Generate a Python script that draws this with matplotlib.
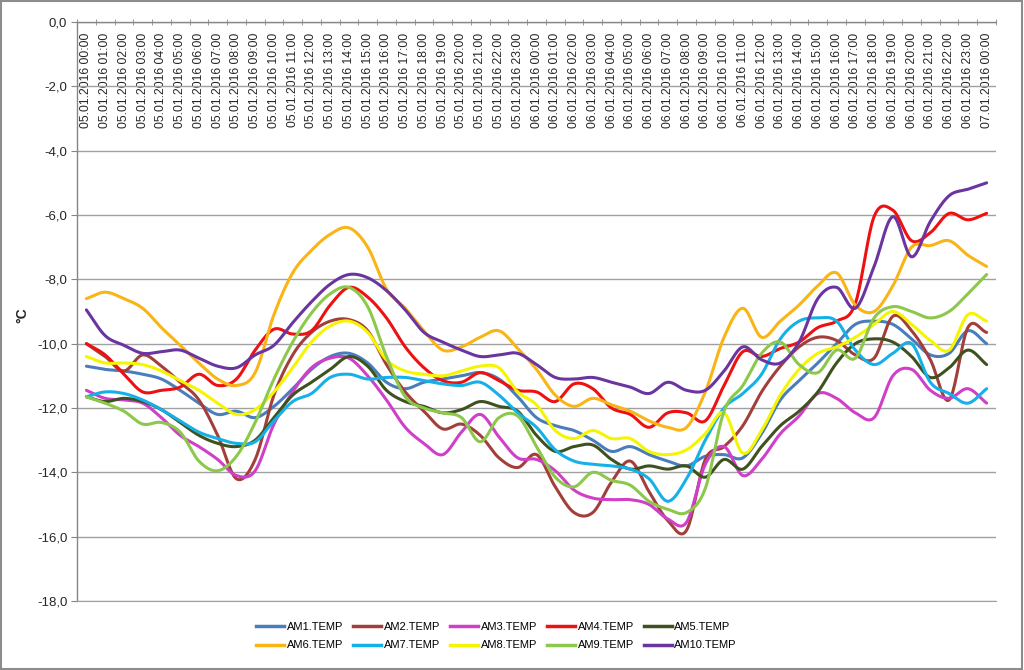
import numpy as np
import matplotlib.pyplot as plt
from matplotlib.patches import Rectangle
from matplotlib.lines import Line2D

plt.rcParams['font.family'] = ['Liberation Sans', 'DejaVu Sans']
plt.rcParams['axes.unicode_minus'] = False

# 时间标签 (每小时一个)
days = ['05.01.2016'] * 24 + ['06.01.2016'] * 24 + ['07.01.2016']
hours = list(range(24)) * 2 + [0]
time_labels = [f'{d} {h:02d}:00' for d, h in zip(days, hours)]

# 各测点温度 (°C)
am1 = [-10.7, -10.8, -10.85, -10.95, -11.1, -11.45, -11.85, -12.2, -12.1, -12.3, -11.95, -11.4, -10.8,
       -10.4, -10.3, -10.6, -11.2, -11.4, -11.2, -11.1, -11.0, -10.9, -11.1, -11.65, -12.3, -12.55,
       -12.7, -13.0, -13.35, -13.2, -13.45, -13.65, -13.8, -13.5, -13.45, -13.55, -12.8, -11.75,
       -11.15, -10.6, -10.0, -9.4, -9.3, -9.4, -9.85, -10.35, -10.3, -9.6, -10.0]
am2 = [-10.0, -10.4, -10.85, -10.35, -10.7, -11.2, -11.75, -12.85, -14.2, -13.6, -11.6, -10.35, -9.65,
       -9.3, -9.25, -9.6, -10.65, -11.5, -12.1, -12.65, -12.5, -12.85, -13.55, -13.85, -13.45, -14.45,
       -15.25, -15.25, -14.3, -13.65, -14.6, -15.5, -15.8, -13.6, -13.2, -12.55, -11.5, -10.7,
       -10.1, -9.8, -9.9, -10.35, -10.45, -9.15, -9.6, -10.5, -11.75, -9.5, -9.65]
am3 = [-11.45, -11.7, -11.75, -11.85, -12.3, -12.85, -13.2, -13.6, -14.1, -13.95, -12.5, -11.5, -10.75,
       -10.45, -10.45, -11.0, -11.75, -12.6, -13.1, -13.45, -12.75, -12.2, -12.9, -13.55, -13.6, -13.95,
       -14.55, -14.8, -14.85, -14.85, -15.0, -15.45, -15.55, -13.75, -13.2, -14.1, -13.6, -12.8,
       -12.25, -11.55, -11.7, -12.15, -12.3, -11.0, -10.8, -11.45, -11.7, -11.4, -11.85]
am4 = [-10.0, -10.35, -10.95, -11.5, -11.45, -11.35, -10.95, -11.3, -11.1, -10.2, -9.55, -9.7, -9.6,
       -8.8, -8.25, -8.55, -9.2, -10.1, -10.75, -11.15, -11.2, -10.9, -11.15, -11.45, -11.5, -11.8,
       -11.25, -11.4, -12.0, -12.2, -12.6, -12.15, -12.15, -12.4, -11.3, -10.25, -10.4, -10.15,
       -9.95, -9.5, -9.3, -8.75, -6.05, -5.85, -6.8, -6.55, -5.95, -6.15, -5.95]
am5 = [-11.65, -11.8, -11.7, -11.8, -12.05, -12.45, -12.85, -13.1, -13.2, -13.0, -12.3, -11.6, -11.2,
       -10.8, -10.4, -10.7, -11.45, -11.8, -11.95, -12.15, -12.05, -11.8, -11.95, -12.1, -12.85, -13.35,
       -13.2, -13.15, -13.6, -13.9, -13.8, -13.9, -13.8, -14.15, -13.6, -13.9, -13.2, -12.55,
       -12.1, -11.5, -10.6, -10.0, -9.85, -9.95, -10.4, -11.05, -10.75, -10.2, -10.65]
am6 = [-8.6, -8.4, -8.6, -8.9, -9.5, -10.05, -10.6, -11.1, -11.3, -10.9, -9.1, -7.8, -7.1,
       -6.6, -6.4, -7.0, -8.3, -8.9, -9.6, -10.2, -10.1, -9.8, -9.6, -10.15, -10.8, -11.6,
       -11.95, -11.7, -11.9, -12.1, -12.4, -12.6, -12.6, -11.5, -9.8, -8.9, -9.8, -9.3,
       -8.8, -8.2, -7.8, -8.8, -9.0, -8.2, -7.0, -6.95, -6.8, -7.25, -7.6]
am7 = [-11.65, -11.5, -11.55, -11.75, -12.05, -12.4, -12.75, -12.95, -13.1, -13.05, -12.4, -11.8, -11.55,
       -11.05, -10.95, -11.1, -11.05, -11.05, -11.15, -11.25, -11.3, -11.2, -11.6, -12.15, -12.6, -13.3,
       -13.65, -13.75, -13.8, -13.9, -14.2, -14.9, -14.2, -13.0, -12.0, -11.55, -10.95, -9.85,
       -9.3, -9.2, -9.3, -10.2, -10.65, -10.3, -10.0, -11.2, -11.55, -11.85, -11.4]
am8 = [-10.4, -10.6, -10.6, -10.65, -10.85, -11.15, -11.45, -11.85, -12.2, -12.05, -11.5, -10.75, -9.95,
       -9.45, -9.3, -9.65, -10.5, -10.85, -10.95, -11.0, -10.85, -10.7, -10.75, -11.5, -11.9, -12.7,
       -12.95, -12.7, -12.95, -12.95, -13.35, -13.45, -13.3, -12.8, -12.15, -13.4, -12.7, -11.6,
       -10.8, -10.3, -10.1, -9.8, -9.4, -9.0, -9.4, -9.9, -10.2, -9.1, -9.3]
am9 = [-11.65, -11.85, -12.1, -12.5, -12.45, -12.75, -13.65, -13.95, -13.5, -12.45, -11.1, -9.95, -9.05,
       -8.45, -8.25, -8.85, -10.4, -11.65, -12.0, -12.15, -12.3, -13.05, -12.3, -12.25, -13.2, -14.15,
       -14.45, -14.0, -14.25, -14.4, -14.9, -15.15, -15.25, -14.5, -12.1, -11.3, -10.3, -9.95,
       -10.65, -10.9, -10.2, -10.45, -9.2, -8.85, -9.0, -9.2, -9.0, -8.45, -7.85]
am10 = [-8.95, -9.75, -10.05, -10.3, -10.25, -10.2, -10.45, -10.7, -10.75, -10.35, -10.05, -9.35, -8.7,
        -8.15, -7.85, -7.95, -8.35, -8.95, -9.65, -9.95, -10.2, -10.4, -10.35, -10.3, -10.65, -11.05,
        -11.1, -11.05, -11.2, -11.35, -11.55, -11.2, -11.45, -11.45, -10.85, -10.1, -10.5, -10.6,
        -9.95, -8.6, -8.25, -8.9, -7.6, -6.05, -7.3, -6.2, -5.4, -5.2, -5.0]

names = ['AM1.TEMP', 'AM2.TEMP', 'AM3.TEMP', 'AM4.TEMP', 'AM5.TEMP',
         'AM6.TEMP', 'AM7.TEMP', 'AM8.TEMP', 'AM9.TEMP', 'AM10.TEMP']
colors = ['#4A7EBB', '#A33F3A', '#D03FC8', '#EE1111', '#3E5220',
          '#FAB416', '#16B0E8', '#F5F500', '#8CC84B', '#6A35A0']
values = [am1, am2, am3, am4, am5, am6, am7, am8, am9, am10]


def smooth(y, n=20):
    # 类似 Excel 的平滑线 (Catmull-Rom 样条)
    y = np.asarray(y, float)
    m = np.gradient(y)
    t = np.linspace(0, 1, n, endpoint=False)
    h00 = 2 * t**3 - 3 * t**2 + 1
    h10 = t**3 - 2 * t**2 + t
    h01 = -2 * t**3 + 3 * t**2
    h11 = t**3 - t**2
    xs, ys = [], []
    for i in range(len(y) - 1):
        xs.append(i + t)
        ys.append(h00 * y[i] + h10 * m[i] + h01 * y[i + 1] + h11 * m[i + 1])
    xs.append([len(y) - 1])
    ys.append([y[-1]])
    return np.concatenate(xs), np.concatenate(ys)


fig = plt.figure(figsize=(10.24, 6.70), dpi=100)
ax = fig.add_axes([77 / 1024, 1 - 601 / 670, 919 / 1024, 579 / 670])

for vals, col in zip(values, colors):
    sx, sy = smooth(vals)
    ax.plot(sx, sy, color=col, lw=2.2, solid_capstyle='round')

ax.set_xlim(-0.5, len(time_labels) - 0.5)
ax.set_ylim(-18, 0)

# y 轴
yt = np.arange(-18, 0.1, 2)
ax.set_yticks(yt)
ax.set_yticklabels([f'{v:.1f}'.replace('.', ',') for v in yt], fontsize=9.5, color='#262626')
ax.tick_params(axis='y', length=4, color='#868686', pad=3)
ax.yaxis.grid(True, color='#A0A0A0', lw=1.0)
ax.set_axisbelow(True)

# x 轴在顶部 (y=0 处)，标签在图内
ax.xaxis.tick_top()
ax.set_xticks(range(len(time_labels)))
ax.set_xticklabels(time_labels, rotation=90, va='top', ha='center', fontsize=8.8, color='#262626')
ax.set_xticks(np.arange(-0.5, len(time_labels), 1), minor=True)
ax.tick_params(axis='x', which='major', length=0, pad=-7.5)
ax.tick_params(axis='x', which='minor', length=4, direction='inout', color='#868686')

ax.spines['right'].set_visible(False)
ax.spines['bottom'].set_color('#A0A0A0')
for s in ['left', 'top']:
    ax.spines[s].set_color('#868686')
    ax.spines[s].set_linewidth(1.0)

fig.text(22 / 1024, 1 - 315 / 670, '°C', rotation=90, ha='center', va='center',
         fontsize=10, fontweight='bold', color='#262626')

# 图例: 两行五列，按行排列
order = [0, 5, 1, 6, 2, 7, 3, 8, 4, 9]
handles = [Line2D([], [], color=colors[k], lw=2.5) for k in order]
fig.legend(handles, [names[k] for k in order], loc='center',
           bbox_to_anchor=(0.485, 1 - 636 / 670), ncol=5, frameon=False, fontsize=8,
           handlelength=2.5, handletextpad=0.25, columnspacing=0.9, labelspacing=0.8)

fig.patches.append(Rectangle((0.001, 0.002), 0.997, 0.996, transform=fig.transFigure,
                             fill=False, edgecolor='#8C8C8C', lw=1.5))

plt.savefig('out.png', dpi=100)
